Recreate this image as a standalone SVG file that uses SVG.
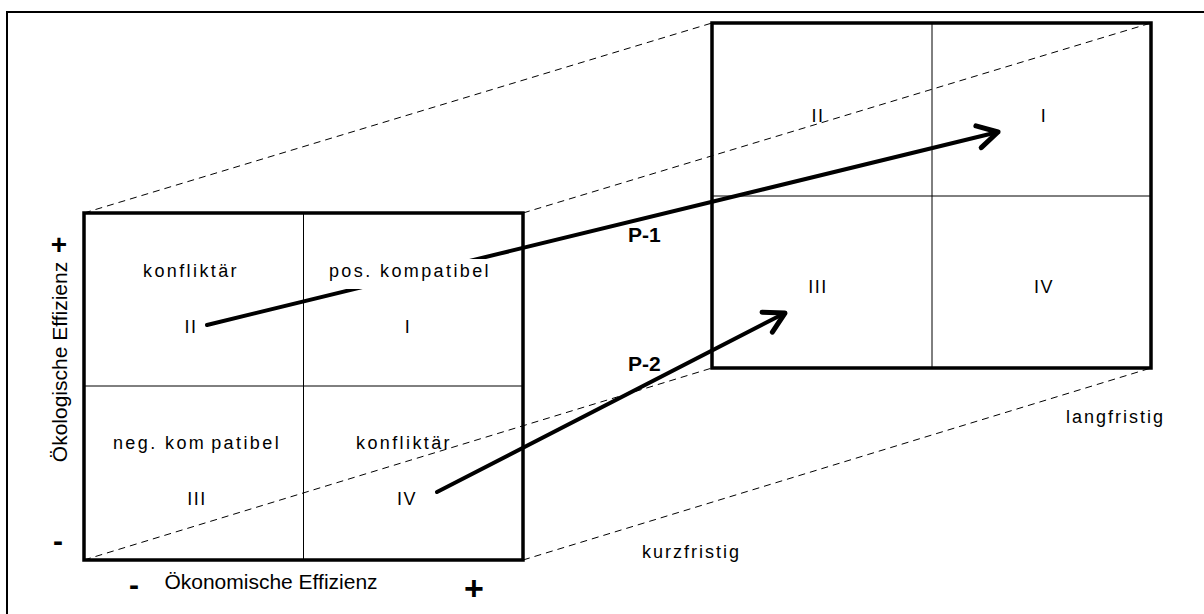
<svg xmlns="http://www.w3.org/2000/svg" width="1204" height="614" viewBox="0 0 1204 614">
<style>
text{font-family:"Liberation Sans",Arial,sans-serif;fill:#000}
.q{font-size:18px;letter-spacing:2.4px;text-anchor:middle}
.n{font-size:18px;letter-spacing:1.5px;text-anchor:middle}
.box{fill:none;stroke:#000;stroke-width:3.5}
.grid{stroke:#000;stroke-width:1}
.dash{fill:none;stroke:#000;stroke-width:1;stroke-dasharray:7 5}
.arrow{fill:none;stroke:#000;stroke-width:4;stroke-linecap:round}
.axis{font-size:21px}
.sign{font-weight:bold;text-anchor:middle}
.p{font-size:21px;font-weight:bold}
.t{font-size:18px;letter-spacing:2px}
</style>
<defs>
<marker id="ah" markerUnits="userSpaceOnUse" markerWidth="30" markerHeight="30" viewBox="-20 -12 24 24" refX="0" refY="0" orient="auto" overflow="visible">
<path d="M-16,-9 L0,0 L-16,9" fill="none" stroke="#000" stroke-width="4" stroke-linecap="round" stroke-linejoin="round"/>
</marker>
</defs>
<rect width="1204" height="614" fill="#fff"/>
<g id="frame">
<path d="M7,614 V12 H1204" fill="none" stroke="#000" stroke-width="2"/>
</g>
<g id="box-kurzfristig">
<line class="grid" x1="303.5" y1="213" x2="303.5" y2="560"/>
<line class="grid" x1="84" y1="386" x2="523" y2="386"/>
<rect class="box" x="84" y="213" width="439" height="347"/>
</g>
<g id="box-langfristig">
<line class="grid" x1="932" y1="23" x2="932" y2="368"/>
<line class="grid" x1="712" y1="196" x2="1151" y2="196"/>
<rect class="box" x="712" y="23" width="439" height="345"/>
<text class="n" x="818" y="122">II</text>
<text class="n" x="1044" y="122">I</text>
<text class="n" x="818" y="293">III</text>
<text class="n" x="1044" y="293">IV</text>
</g>
<g id="connectors">
<line class="dash" x1="84" y1="213" x2="712" y2="23"/>
<line class="dash" x1="523" y1="213" x2="1151" y2="23"/>
<line class="dash" x1="84" y1="560" x2="712" y2="368"/>
<line class="dash" x1="523" y1="560" x2="1151" y2="368"/>
<line id="p1" class="arrow" x1="207" y1="325" x2="998" y2="132" marker-end="url(#ah)"/>
<line id="p2" class="arrow" x1="437" y1="492" x2="785" y2="313" marker-end="url(#ah)"/>
</g>
<g id="quadrants-kurzfristig">
<rect x="318" y="259" width="184" height="30" fill="#fff"/>
<text class="q" x="191" y="277">konfliktär</text>
<text class="n" x="191" y="333">II</text>
<text class="q" x="410" y="277">pos. kompatibel</text>
<text class="n" x="408" y="333">I</text>
<text class="q" x="197" y="449">neg. kom<tspan dx="5">patibel</tspan></text>
<text class="n" x="197" y="505">III</text>
<text class="q" x="404" y="449">konfliktär</text>
<text class="n" x="407" y="505">IV</text>
</g>
<g id="labels">
<text class="p" x="628" y="242">P-1</text>
<text class="p" x="628" y="371">P-2</text>
<text class="t" x="1066" y="423">langfristig</text>
<text class="t" x="642" y="558">kurzfristig</text>
</g>
<g id="axes">
<text class="axis" transform="translate(67,362) rotate(-90)" text-anchor="middle">Ökologische Effizienz</text>
<text class="sign" x="59" y="254" font-size="28">+</text>
<text class="sign" x="58" y="551" font-size="30">-</text>
<text class="axis" x="271" y="589" text-anchor="middle">Ökonomische Effizienz</text>
<text class="sign" x="134" y="595" font-size="30">-</text>
<text class="sign" x="474" y="600" font-size="34">+</text>
</g>
</svg>
